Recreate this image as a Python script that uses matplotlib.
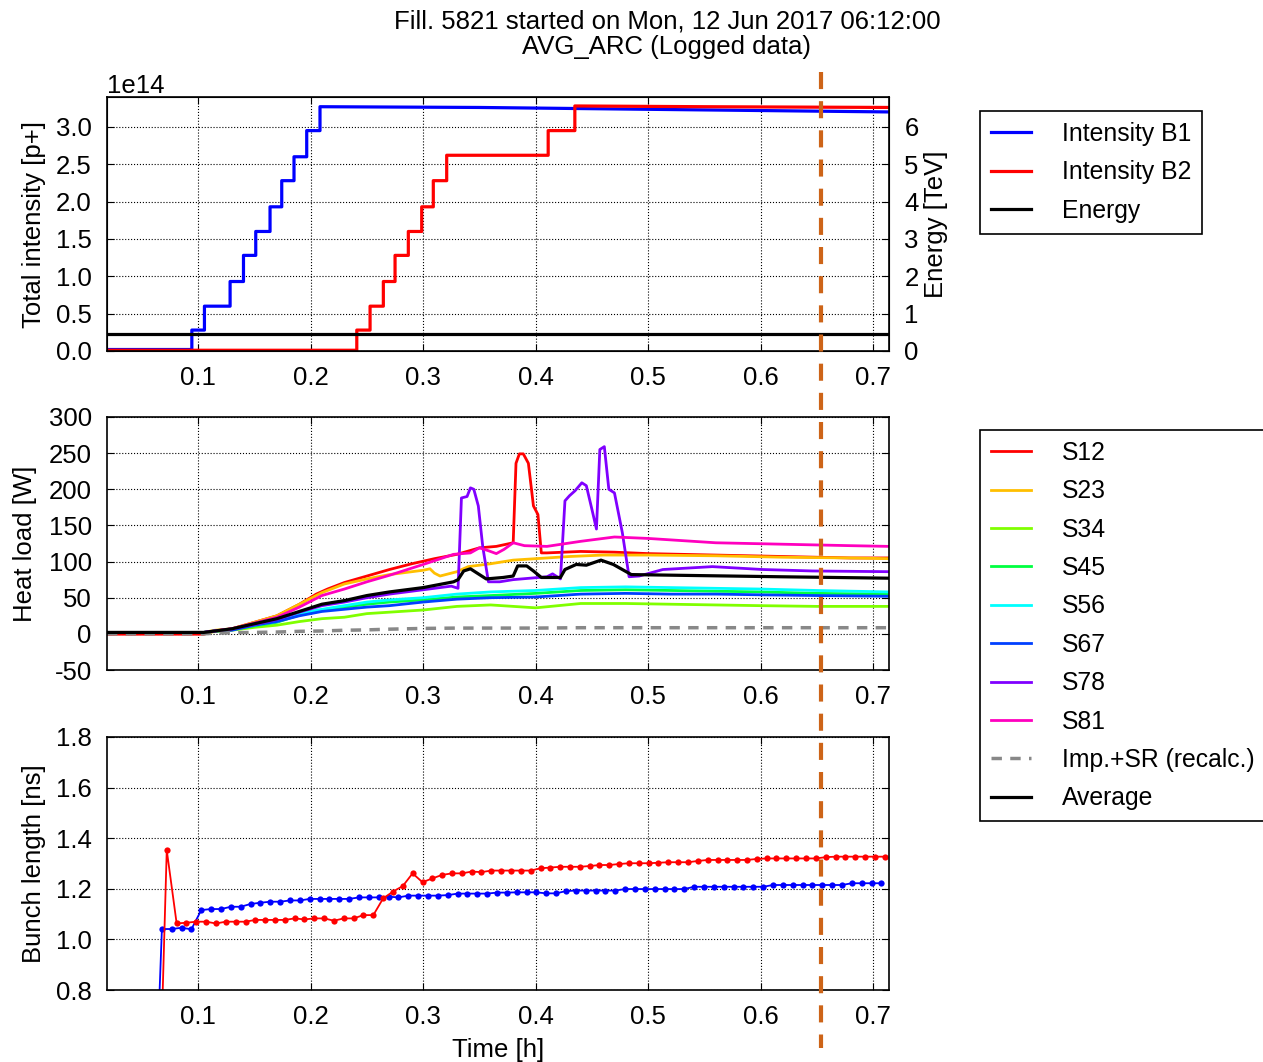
import colorsys
import matplotlib
matplotlib.use("Agg")
import matplotlib.pyplot as plt
from matplotlib.lines import Line2D
from matplotlib.transforms import blended_transform_factory

FS = 18.5
LFS = 17.8
plt.rcParams['font.family'] = ['Liberation Sans', 'DejaVu Sans']
plt.rcParams['font.size'] = FS
plt.rcParams['axes.unicode_minus'] = False

# ---------------- data ----------------
title_line1 = "Fill. 5821 started on Mon, 12 Jun 2017 06:12:00"
title_line2 = "AVG_ARC (Logged data)"
t_dump = 0.654          # vertical marker [h]
x_ticks = [0.1, 0.2, 0.3, 0.4, 0.5, 0.6, 0.7]
x_lim = (0.019, 0.714)

# Intensities (units of 1e14 p+): injection times and levels
b1_inj_t = [0.0944, 0.1056, 0.1284, 0.1403, 0.1512, 0.1639, 0.1743, 0.1852, 0.1965, 0.2083]
b1_levels = [0.28, 0.60, 0.93, 1.28, 1.60, 1.93, 2.28, 2.60, 2.95, 3.27]
b1_base = 0.02
b1_tail_t = [0.35, 0.714]
b1_tail_v = [3.26, 3.20]

b2_inj_t = [0.2410, 0.2528, 0.2646, 0.2750, 0.2868, 0.2987, 0.3090, 0.3209, 0.4111, 0.4348]
b2_levels = [0.28, 0.60, 0.93, 1.28, 1.60, 1.93, 2.28, 2.62, 2.95, 3.28]
b2_base = 0.01
b2_tail_t = [0.55, 0.714]
b2_tail_v = [3.27, 3.26]

energy_t = [0.019, 0.714]
energy_v = [0.45, 0.45]   # TeV

# Heat loads [W]
s12_t = [0.019, 0.105, 0.115, 0.13, 0.15, 0.17, 0.19, 0.205, 0.215, 0.23, 0.25, 0.27, 0.29, 0.31, 0.33,
         0.35, 0.365, 0.38, 0.3825, 0.3855, 0.389, 0.3935, 0.398, 0.402, 0.405, 0.41, 0.44, 0.47, 0.50,
         0.56, 0.62, 0.68, 0.714]
s12_v = [-0.5, -0.5, 4, 7, 16, 25, 41, 55, 62, 71, 80, 89, 97, 104, 110,
         119, 121, 126, 236, 249, 249, 236, 177, 165, 112, 112, 114, 113, 111,
         109, 107, 105, 105]

s23_t = [0.019, 0.105, 0.115, 0.13, 0.15, 0.17, 0.19, 0.21, 0.23, 0.25, 0.27, 0.29, 0.30, 0.306, 0.31,
         0.315, 0.32, 0.33, 0.34, 0.36, 0.38, 0.40, 0.43, 0.46, 0.50, 0.56, 0.62, 0.68, 0.714]
s23_v = [2, 2, 5, 7, 16, 25, 41, 57, 69, 76, 82, 86, 88, 90, 84,
         80, 82, 86, 93, 97, 102, 104, 107, 109, 109, 108, 106, 105, 104]

s81_t = [0.019, 0.105, 0.115, 0.13, 0.15, 0.17, 0.19, 0.21, 0.23, 0.25, 0.27, 0.30, 0.327, 0.342, 0.35,
         0.358, 0.365, 0.372, 0.38, 0.39, 0.41, 0.44, 0.47, 0.50, 0.53, 0.56, 0.62, 0.68, 0.714]
s81_v = [2, 2, 4, 7, 15, 23, 37, 53, 62, 72, 81, 96, 110, 112, 119,
         115, 111, 117, 126, 122, 121, 128, 134, 132, 129, 126, 124, 122, 121]

s78_t = [0.019, 0.105, 0.115, 0.13, 0.15, 0.17, 0.19, 0.21, 0.23, 0.25, 0.27, 0.30, 0.325, 0.331, 0.334,
         0.339, 0.342, 0.345, 0.349, 0.353, 0.358, 0.368, 0.38, 0.41, 0.415, 0.422, 0.426, 0.43, 0.435,
         0.441, 0.445, 0.45, 0.454, 0.457, 0.461, 0.465, 0.47, 0.477, 0.483, 0.492, 0.513, 0.557, 0.602,
         0.646, 0.714]
s78_v = [2, 2, 4, 7, 13, 20, 30, 39, 44, 50, 55, 61, 66, 63, 188,
         190, 202, 200, 177, 120, 72, 72, 75, 79, 83, 76, 184, 191, 198,
         209, 205, 172, 145, 255, 259, 200, 195, 140, 79, 80, 89, 93, 89,
         87, 86]

avg_t = [0.019, 0.105, 0.115, 0.13, 0.15, 0.17, 0.19, 0.21, 0.23, 0.25, 0.27, 0.30, 0.327, 0.331, 0.336,
         0.342, 0.349, 0.356, 0.371, 0.38, 0.384, 0.392, 0.398, 0.405, 0.422, 0.426, 0.436, 0.445, 0.458,
         0.469, 0.477, 0.485, 0.528, 0.617, 0.714]
avg_v = [2, 2, 4, 7, 14, 21, 31, 41, 46, 53, 58, 64, 72, 75, 87,
         90, 83, 76, 78, 80, 94, 94, 87, 78, 78, 89, 96, 95, 102,
         96, 89, 82, 81, 79, 77]

smooth_t = [0.019, 0.105, 0.115, 0.13, 0.15, 0.17, 0.19, 0.21, 0.23, 0.25, 0.27, 0.30, 0.33, 0.36,
            0.40, 0.44, 0.48, 0.52, 0.56, 0.60, 0.65, 0.714]
s34_v = [2, 2, 3, 5, 9, 12, 17, 21, 23, 28, 30, 33, 38, 40, 36, 42, 42, 41, 40, 39, 38, 38]
s45_v = [2, 2, 4, 6, 11, 16, 26, 32, 37, 41, 44, 47, 51, 53, 56, 60, 61, 60, 59, 58, 56, 55]
s56_v = [2, 2, 4, 6, 12, 17, 28, 34, 39, 44, 47, 50, 55, 58, 60, 64, 65, 64, 63, 62, 60, 58]
s67_v = [2, 2, 4, 5, 12, 17, 25, 31, 34, 37, 39, 44, 48, 50, 51, 55, 56, 55, 55, 54, 53, 52]
imp_v = [0, 0, 1, 1.5, 2, 2.5, 3.5, 4, 5, 5.5, 6.5, 7.5, 8, 8, 8, 8.5, 8.5, 8.5, 8.5, 8.5, 8.5, 8.5]

sector_names = ["S12", "S23", "S34", "S45", "S56", "S67", "S78", "S81"]

# Bunch length [ns]
bl_b1_t = [0.0590, 0.0678, 0.0765, 0.0853, 0.0940, 0.1028, 0.1116, 0.1203, 0.1291, 0.1378,
           0.1466, 0.1554, 0.1641, 0.1729, 0.1816, 0.1904, 0.1992, 0.2079, 0.2167, 0.2254,
           0.2342, 0.2430, 0.2517, 0.2605, 0.2692, 0.2780, 0.2868, 0.2955, 0.3043, 0.3130,
           0.3218, 0.3306, 0.3393, 0.3481, 0.3568, 0.3656, 0.3744, 0.3831, 0.3919, 0.4006,
           0.4094, 0.4182, 0.4269, 0.4357, 0.4444, 0.4532, 0.4620, 0.4707, 0.4795, 0.4882,
           0.4970, 0.5058, 0.5145, 0.5233, 0.5320, 0.5408, 0.5496, 0.5583, 0.5671, 0.5758,
           0.5846, 0.5934, 0.6021, 0.6109, 0.6196, 0.6284, 0.6372, 0.6459, 0.6547, 0.6634,
           0.6722, 0.6810, 0.6897, 0.6985, 0.7072]
bl_b1_v = [0.0, 1.041, 1.041, 1.046, 1.040, 1.116, 1.120, 1.120, 1.129, 1.129,
           1.140, 1.145, 1.149, 1.149, 1.154, 1.154, 1.160, 1.160, 1.160, 1.160,
           1.160, 1.166, 1.166, 1.166, 1.169, 1.166, 1.173, 1.173, 1.173, 1.173,
           1.175, 1.181, 1.181, 1.181, 1.181, 1.185, 1.185, 1.186, 1.186, 1.186,
           1.182, 1.182, 1.191, 1.193, 1.193, 1.193, 1.193, 1.193, 1.199, 1.199,
           1.199, 1.199, 1.199, 1.199, 1.199, 1.208, 1.208, 1.208, 1.208, 1.208,
           1.208, 1.208, 1.208, 1.215, 1.215, 1.215, 1.215, 1.215, 1.215, 1.215,
           1.215, 1.222, 1.222, 1.222, 1.222]

bl_b2_t = [0.0634, 0.0721, 0.0809, 0.0896, 0.0984, 0.1071, 0.1158, 0.1246, 0.1333, 0.1421,
           0.1508, 0.1595, 0.1683, 0.1770, 0.1858, 0.1945, 0.2032, 0.2120, 0.2207, 0.2295,
           0.2382, 0.2469, 0.2557, 0.2644, 0.2732, 0.2819, 0.2906, 0.2994, 0.3081, 0.3169,
           0.3256, 0.3343, 0.3431, 0.3518, 0.3606, 0.3693, 0.3780, 0.3868, 0.3955, 0.4043,
           0.4130, 0.4217, 0.4305, 0.4392, 0.4480, 0.4567, 0.4654, 0.4742, 0.4829, 0.4917,
           0.5004, 0.5091, 0.5179, 0.5266, 0.5354, 0.5441, 0.5528, 0.5616, 0.5703, 0.5791,
           0.5878, 0.5965, 0.6053, 0.6140, 0.6228, 0.6315, 0.6402, 0.6490, 0.6577, 0.6665,
           0.6752, 0.6839, 0.6927, 0.7014, 0.7102]
bl_b2_v = [0.0, 1.353, 1.063, 1.066, 1.070, 1.070, 1.063, 1.070, 1.070, 1.070,
           1.077, 1.077, 1.077, 1.077, 1.083, 1.079, 1.083, 1.083, 1.074, 1.083,
           1.083, 1.096, 1.096, 1.162, 1.189, 1.211, 1.261, 1.226, 1.241, 1.255,
           1.261, 1.261, 1.268, 1.266, 1.272, 1.272, 1.272, 1.272, 1.272, 1.281,
           1.284, 1.287, 1.287, 1.287, 1.290, 1.294, 1.294, 1.298, 1.301, 1.301,
           1.301, 1.303, 1.305, 1.305, 1.305, 1.310, 1.314, 1.314, 1.314, 1.314,
           1.314, 1.318, 1.320, 1.320, 1.320, 1.320, 1.320, 1.320, 1.325, 1.327,
           1.327, 1.327, 1.327, 1.327, 1.327]

INT_UNIT = 1e14


def step_series(t0, base, inj_t, levels, tail_t, tail_v):
    t, v, prev = [t0], [base], base
    for ti, lv in zip(inj_t, levels):
        t += [ti, ti]
        v += [prev, lv]
        prev = lv
    return t + tail_t, v + tail_v


def style_axis(ax, right=True):
    ax.tick_params(direction='in', length=5, pad=11, top=True, right=right, labelsize=FS)
    ax.grid(True, color='k', linestyle=':', linewidth=0.8)
    ax.set_xlim(*x_lim)
    ax.set_xticks(x_ticks)
    for s in ax.spines.values():
        s.set_linewidth(1.2)


LEG_KW = dict(loc='upper left', borderaxespad=0, fancybox=False, edgecolor='k', framealpha=1,
              handlelength=1.6, handletextpad=1.25, labelspacing=0.58, borderpad=0.45, fontsize=LFS)

# ---------------- figure ----------------
W, H = 1263, 1062
fig = plt.figure(figsize=(W / 100, H / 100), dpi=100)
L, Wd = 107 / W, 782 / W
ax1 = fig.add_axes([L, 1 - 351 / H, Wd, 254 / H])
ax2 = fig.add_axes([L, 1 - 670 / H, Wd, 253 / H])
ax3 = fig.add_axes([L, 1 - 990 / H, Wd, 253 / H])

# --- top: intensities + energy
t1, v1 = step_series(x_lim[0], b1_base, b1_inj_t, b1_levels, b1_tail_t, b1_tail_v)
t2, v2 = step_series(x_lim[0], b2_base, b2_inj_t, b2_levels, b2_tail_t, b2_tail_v)
h1, = ax1.plot(t1, [x * INT_UNIT for x in v1], color='#0000ff', lw=2.3, label='Intensity B1')
h2, = ax1.plot(t2, [x * INT_UNIT for x in v2], color='#ff0000', lw=2.3, label='Intensity B2')
style_axis(ax1, right=False)
ax1.set_ylim(0, 3.4 * INT_UNIT)
ax1.set_yticks([x * INT_UNIT for x in [0, 0.5, 1.0, 1.5, 2.0, 2.5, 3.0]])
ax1.set_ylabel('Total intensity [p+]', labelpad=7)
ax1.yaxis.get_offset_text().set_fontsize(FS)

ax1b = ax1.twinx()
h3, = ax1b.plot(energy_t, energy_v, color='k', lw=2.3, label='Energy')
ax1b.set_ylim(0, 6.8)
ax1b.set_yticks([0, 1, 2, 3, 4, 5, 6])
ax1b.tick_params(direction='in', length=5, pad=11, labelsize=FS)
ax1b.set_ylabel('Energy [TeV]', labelpad=4)
ax1b.set_xlim(*x_lim)

leg1 = ax1.legend(handles=[h1, h2, h3], bbox_to_anchor=(1.1164, 0.946), **LEG_KW)
leg1.get_frame().set_linewidth(1.2)

# --- middle: heat loads
sector_t = [s12_t, s23_t, smooth_t, smooth_t, smooth_t, smooth_t, s78_t, s81_t]
sector_v = [s12_v, s23_v, s34_v, s45_v, s56_v, s67_v, s78_v, s81_v]
handles = []
for i, (name, tt, vv) in enumerate(zip(sector_names, sector_t, sector_v)):
    col = colorsys.hsv_to_rgb(i / 8.0, 1.0, 1.0)
    h, = ax2.plot(tt, vv, color=col, lw=2.0, label=name)
    handles.append(h)
hi, = ax2.plot(smooth_t, imp_v, color='#888888', lw=2.5, dashes=(3.0, 2.4), label='Imp.+SR (recalc.)')
ha, = ax2.plot(avg_t, avg_v, color='k', lw=2.3, label='Average')
handles += [hi, ha]
style_axis(ax2)
ax2.set_ylim(-50, 300)
ax2.set_yticks([-50, 0, 50, 100, 150, 200, 250, 300])
ax2.set_ylabel('Heat load [W]', labelpad=8)
leg2 = ax2.legend(handles=handles, bbox_to_anchor=(1.1164, 0.9486), **LEG_KW)
leg2.get_frame().set_linewidth(1.2)

# --- bottom: bunch length
ax3.plot(bl_b1_t, bl_b1_v, '-o', color='#0000ff', lw=1.3, ms=4.5, mew=0)
ax3.plot(bl_b2_t, bl_b2_v, '-o', color='#ff0000', lw=1.3, ms=4.5, mew=0)
style_axis(ax3)
ax3.set_ylim(0.8, 1.8)
ax3.set_yticks([0.8, 1.0, 1.2, 1.4, 1.6, 1.8])
ax3.set_ylabel('Bunch length [ns]', labelpad=7)
ax3.set_xlabel('Time [h]', labelpad=6)

# --- vertical marker through all panels
trans = blended_transform_factory(ax3.transData, fig.transFigure)
fig.add_artist(Line2D([t_dump, t_dump], [1 - 72 / H, 1 - 1048 / H], transform=trans,
                      color='#cd6418', lw=3, dashes=(4.1, 2.9)))

fig.suptitle(title_line1 + "\n" + title_line2, x=0.528, y=1 - 9 / H, va='top',
             fontsize=FS, linespacing=1.13)

fig.savefig('out.png', dpi=100)
